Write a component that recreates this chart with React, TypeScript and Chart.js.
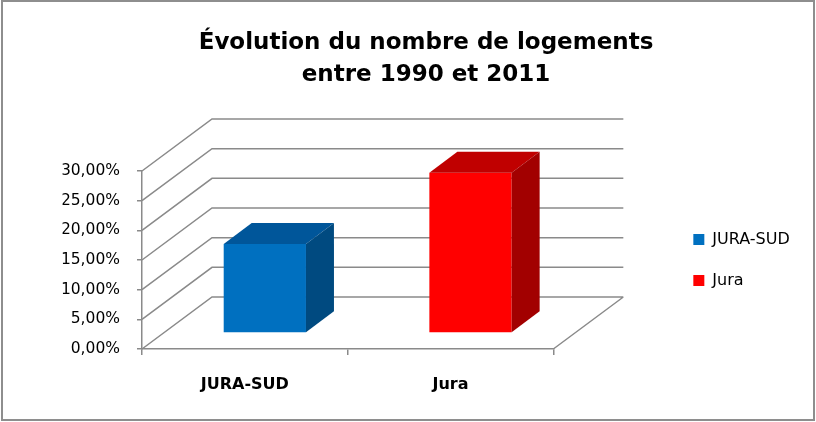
import { useEffect, useRef } from "react";
import { Chart, registerables } from "chart.js";

Chart.register(...registerables);

const categories = ["JURA-SUD", "Jura"];
const seriesValues = [15.0, 27.0];
const yTickValues = [0, 5, 10, 15, 20, 25, 30];
const yTickLabels = ["0,00%", "5,00%", "10,00%", "15,00%", "20,00%", "25,00%", "30,00%"];
const titleLines = ["Évolution du nombre de logements", "entre 1990 et 2011"];

const frontColors = ["#0070C0", "#FF0000"];
const topColors = ["#00569A", "#C00000"];
const sideColors = ["#004A80", "#A20000"];

const GRID = "#8a8a8a";
const FONT = "'DejaVu Sans', sans-serif";
const WALL_DX = 70;
const WALL_DY = -52;
const BAR_OX = 20;
const BAR_OY = -16;
const BAR_DX = 28;
const BAR_DY = -21;

const threeD = {
  id: "threeD",
  beforeDraw(chart: any) {
    const { ctx, width, height } = chart;
    ctx.save();
    ctx.fillStyle = "#ffffff";
    ctx.fillRect(0, 0, width, height);
    ctx.restore();
  },
  beforeDatasetsDraw(chart: any) {
    const { ctx, chartArea, scales } = chart;
    const y = scales.y;
    ctx.save();
    ctx.strokeStyle = GRID;
    ctx.lineWidth = 1.5;
    ctx.beginPath();
    for (const v of yTickValues) {
      const py = y.getPixelForValue(v);
      ctx.moveTo(chartArea.left, py);
      ctx.lineTo(chartArea.left + WALL_DX, py + WALL_DY);
      ctx.lineTo(chartArea.right + WALL_DX, py + WALL_DY);
    }
    const p0 = y.getPixelForValue(0);
    ctx.moveTo(chartArea.right, p0);
    ctx.lineTo(chartArea.right + WALL_DX, p0 + WALL_DY);
    ctx.stroke();
    ctx.restore();
    ctx.save();
    ctx.translate(BAR_OX, BAR_OY);
  },
  afterDatasetsDraw(chart: any) {
    const { ctx } = chart;
    ctx.restore();
    const meta = chart.getDatasetMeta(0);
    meta.data.forEach((bar: any, i: number) => {
      const { x, y, base, width } = bar.getProps(["x", "y", "base", "width"], true);
      const l = x - width / 2 + BAR_OX;
      const r = x + width / 2 + BAR_OX;
      const t = y + BAR_OY;
      const b = base + BAR_OY;
      ctx.save();
      ctx.fillStyle = topColors[i];
      ctx.beginPath();
      ctx.moveTo(l, t);
      ctx.lineTo(l + BAR_DX, t + BAR_DY);
      ctx.lineTo(r + BAR_DX, t + BAR_DY);
      ctx.lineTo(r, t);
      ctx.closePath();
      ctx.fill();
      ctx.fillStyle = sideColors[i];
      ctx.beginPath();
      ctx.moveTo(r, t);
      ctx.lineTo(r + BAR_DX, t + BAR_DY);
      ctx.lineTo(r + BAR_DX, b + BAR_DY);
      ctx.lineTo(r, b);
      ctx.closePath();
      ctx.fill();
      ctx.restore();
    });
  },
  afterDraw(chart: any) {
    const { ctx } = chart;
    ctx.save();
    ctx.strokeStyle = "#8e8e8e";
    ctx.lineWidth = 2;
    ctx.strokeRect(2, 1, 812, 419);
    ctx.restore();
  },
};

export default function App() {
  const ref = useRef<HTMLCanvasElement | null>(null);

  useEffect(() => {
    document.body.style.margin = "0";
    const canvas = ref.current;
    if (!canvas) return;
    const chart = new Chart(canvas, {
      type: "bar",
      data: {
        labels: categories,
        datasets: [
          {
            label: "Évolution",
            data: seriesValues,
            backgroundColor: frontColors,
            borderWidth: 0,
            barPercentage: 0.4,
            categoryPercentage: 1.0,
          },
        ],
      },
      options: {
        responsive: false,
        animation: false,
        layout: { padding: { left: 62.5, right: 26.5, top: 0, bottom: 0 } },
        scales: {
          x: {
            type: "category",
            position: "bottom",
            grid: {
              display: true,
              drawOnChartArea: false,
              drawTicks: true,
              tickLength: 6,
              color: GRID,
              lineWidth: 1.5,
              offset: true,
            },
            border: { display: true, color: GRID, width: 1.5 },
            ticks: {
              color: "#000",
              padding: 20,
              font: { family: FONT, size: 16, weight: "bold" },
              maxRotation: 0,
            },
            afterFit(scale: any) {
              scale.height = 73;
            },
          },
          y: {
            type: "linear",
            position: "left",
            min: 0,
            max: 30,
            afterBuildTicks(scale: any) {
              scale.ticks = yTickValues.map((v) => ({ value: v }));
            },
            grid: {
              display: true,
              drawOnChartArea: false,
              drawTicks: true,
              tickLength: 5,
              color: GRID,
              lineWidth: 1.5,
            },
            border: { display: true, color: GRID, width: 1.5 },
            ticks: {
              color: "#000",
              padding: 17,
              font: { family: FONT, size: 15.5 },
              callback: (_v: any, idx: number) => yTickLabels[idx],
            },
            afterFit(scale: any) {
              scale.width = 79.5;
            },
          },
          y2: {
            type: "linear",
            position: "right",
            display: true,
            grid: { display: false, drawTicks: false },
            border: { display: false },
            ticks: { display: false },
            afterFit(scale: any) {
              scale.width = 115;
            },
          },
        },
        plugins: {
          tooltip: { enabled: false },
          title: {
            display: true,
            text: titleLines,
            color: "#000",
            font: { family: FONT, size: 23, weight: "bold", lineHeight: 1.35 },
            padding: { top: 28, bottom: 80.9 },
          },
          legend: {
            display: true,
            position: "right",
            fullSize: false,
            align: "center",
            labels: {
              boxWidth: 11,
              boxHeight: 11,
              padding: 25,
              color: "#000",
              font: { family: FONT, size: 16 },
              generateLabels: () =>
                categories.map((c, i) => ({
                  text: c,
                  fillStyle: frontColors[i],
                  strokeStyle: frontColors[i],
                  lineWidth: 0,
                  hidden: false,
                  index: i,
                  datasetIndex: 0,
                })),
            },
          },
        },
      },
      plugins: [threeD],
    } as any);
    return () => chart.destroy();
  }, []);

  return (
    <div style={{ position: "fixed", left: 0, top: 0, width: 816, height: 422 }}>
      <canvas ref={ref} width={816} height={422} style={{ display: "block", width: 816, height: 422 }} />
    </div>
  );
}
